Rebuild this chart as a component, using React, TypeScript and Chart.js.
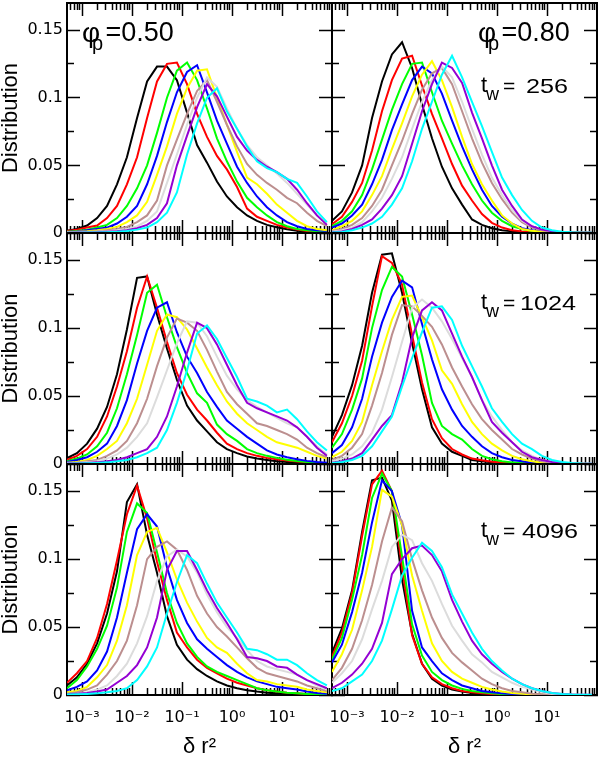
import React, { useEffect, useRef } from 'react';
import { Chart, registerables } from 'chart.js';

Chart.register(...registerables);

// δr² sample positions (log-spaced bins)
const dr2 = [0.0005, 0.00079, 0.00126, 0.002, 0.00316, 0.005, 0.0079, 0.0126, 0.02, 0.0316, 0.05, 0.079, 0.126, 0.2, 0.316, 0.5, 0.79, 1.26, 2, 3.16, 5, 7.9, 12.6, 20, 31.6, 50, 79];

// series colours (black, red, green, blue, yellow, brown, grey, violet, cyan)
const seriesColors = ['#000000', '#ff0000', '#00ff00', '#0000ff', '#ffff00', '#bc8f8f', '#dcdcdc', '#9400d3', '#00ffff'];

const xMajorTicks = [0.001, 0.01, 0.1, 1, 10];
const xTickLabels = ['10⁻³', '10⁻²', '10⁻¹', '10⁰', '10¹'];
const xMinorTicks = [0.0006, 0.0007, 0.0008, 0.0009, 0.002, 0.003, 0.004, 0.005, 0.006, 0.007, 0.008, 0.009, 0.02, 0.03, 0.04, 0.05, 0.06, 0.07, 0.08, 0.09, 0.2, 0.3, 0.4, 0.5, 0.6, 0.7, 0.8, 0.9, 2, 3, 4, 5, 6, 7, 8, 9, 20, 30, 40, 50, 60, 70, 80, 90];
const yMajorTicks = [0, 0.05, 0.1, 0.15];
const yTickLabels = ['0', '0.05', '0.1', '0.15'];
const yMinorTicks = [0.025, 0.075, 0.125];
const xRange = [0.0005, 100];
const yRange = [0, 0.17];

// phi_p = 0.50, t_w = 256
const phi050_tw256 = [
  [0.0017, 0.003, 0.0055, 0.011, 0.020, 0.036, 0.056, 0.085, 0.112, 0.123, 0.123, 0.113, 0.089, 0.065, 0.052, 0.038, 0.027, 0.019, 0.013, 0.009, 0.006, 0.0043, 0.0027, 0.0017, 0.001, 0.0007, 0.0005],
  [0.0015, 0.0025, 0.004, 0.0055, 0.011, 0.020, 0.036, 0.056, 0.085, 0.112, 0.125, 0.126, 0.110, 0.088, 0.071, 0.057, 0.047, 0.034, 0.018, 0.012, 0.009, 0.006, 0.004, 0.0025, 0.0015, 0.001, 0.0008],
  [0.001, 0.0015, 0.0025, 0.004, 0.006, 0.011, 0.020, 0.033, 0.050, 0.074, 0.100, 0.120, 0.126, 0.113, 0.092, 0.070, 0.053, 0.038, 0.026, 0.019, 0.013, 0.008, 0.005, 0.003, 0.002, 0.0012, 0.001],
  [0.0008, 0.0012, 0.002, 0.003, 0.004, 0.007, 0.012, 0.020, 0.036, 0.057, 0.082, 0.104, 0.119, 0.124, 0.104, 0.083, 0.066, 0.049, 0.037, 0.027, 0.019, 0.013, 0.008, 0.005, 0.003, 0.002, 0.0015],
  [0.0006, 0.0009, 0.0013, 0.002, 0.003, 0.0045, 0.008, 0.013, 0.023, 0.043, 0.064, 0.088, 0.107, 0.120, 0.121, 0.100, 0.080, 0.060, 0.041, 0.036, 0.029, 0.021, 0.015, 0.009, 0.005, 0.003, 0.002],
  [0.0004, 0.0006, 0.0009, 0.0013, 0.002, 0.003, 0.0045, 0.008, 0.013, 0.024, 0.050, 0.069, 0.088, 0.105, 0.113, 0.097, 0.080, 0.064, 0.051, 0.043, 0.037, 0.032, 0.026, 0.022, 0.015, 0.009, 0.005],
  [0.0003, 0.0004, 0.0006, 0.0009, 0.0013, 0.002, 0.003, 0.005, 0.009, 0.016, 0.037, 0.058, 0.080, 0.100, 0.115, 0.108, 0.092, 0.077, 0.065, 0.056, 0.050, 0.044, 0.037, 0.029, 0.021, 0.013, 0.007],
  [0.0002, 0.0003, 0.0004, 0.0006, 0.0009, 0.0013, 0.002, 0.0035, 0.006, 0.011, 0.022, 0.050, 0.072, 0.093, 0.110, 0.101, 0.086, 0.071, 0.061, 0.054, 0.049, 0.045, 0.040, 0.032, 0.022, 0.013, 0.006],
  [0.0001, 0.0002, 0.0003, 0.0004, 0.0006, 0.0009, 0.0014, 0.0025, 0.004, 0.008, 0.015, 0.030, 0.058, 0.081, 0.100, 0.107, 0.090, 0.077, 0.064, 0.053, 0.048, 0.045, 0.040, 0.037, 0.027, 0.016, 0.008],
];

// phi_p = 0.80, t_w = 256
const phi080_tw256 = [
  [0.009, 0.016, 0.030, 0.050, 0.085, 0.112, 0.132, 0.141, 0.122, 0.095, 0.070, 0.049, 0.033, 0.021, 0.010, 0.006, 0.0035, 0.002, 0.0012, 0.0008, 0.0005, 0.0003, 0.0002, 0.0001, 0.0001, 0, 0],
  [0.0065, 0.012, 0.023, 0.037, 0.061, 0.090, 0.113, 0.129, 0.131, 0.109, 0.088, 0.070, 0.051, 0.035, 0.024, 0.014, 0.0075, 0.004, 0.002, 0.0012, 0.0008, 0.0005, 0.0003, 0.0002, 0.0001, 0.0001, 0],
  [0.005, 0.009, 0.016, 0.028, 0.047, 0.069, 0.091, 0.110, 0.125, 0.126, 0.104, 0.083, 0.066, 0.050, 0.036, 0.024, 0.015, 0.009, 0.005, 0.003, 0.0015, 0.0008, 0.0005, 0.0003, 0.0002, 0.0001, 0.0001],
  [0.004, 0.007, 0.013, 0.021, 0.036, 0.054, 0.076, 0.095, 0.113, 0.123, 0.118, 0.103, 0.083, 0.064, 0.047, 0.032, 0.020, 0.012, 0.007, 0.0035, 0.002, 0.001, 0.0006, 0.0003, 0.0002, 0.0001, 0.0001],
  [0.002, 0.005, 0.009, 0.016, 0.028, 0.042, 0.062, 0.081, 0.101, 0.117, 0.127, 0.113, 0.093, 0.071, 0.051, 0.036, 0.024, 0.013, 0.007, 0.003, 0.0017, 0.001, 0.0006, 0.0003, 0.0002, 0.0001, 0.0001],
  [0.0015, 0.003, 0.006, 0.011, 0.020, 0.032, 0.050, 0.068, 0.088, 0.106, 0.118, 0.122, 0.110, 0.090, 0.070, 0.052, 0.037, 0.025, 0.015, 0.008, 0.004, 0.002, 0.001, 0.0005, 0.0003, 0.0002, 0.0001],
  [0.001, 0.002, 0.004, 0.008, 0.016, 0.026, 0.040, 0.056, 0.077, 0.097, 0.113, 0.123, 0.115, 0.097, 0.077, 0.058, 0.041, 0.028, 0.017, 0.009, 0.005, 0.0025, 0.0012, 0.0006, 0.0003, 0.0002, 0.0001],
  [0.0005, 0.0012, 0.003, 0.006, 0.010, 0.018, 0.028, 0.042, 0.066, 0.090, 0.110, 0.126, 0.122, 0.111, 0.089, 0.070, 0.050, 0.032, 0.020, 0.010, 0.005, 0.0025, 0.0012, 0.0006, 0.0003, 0.0002, 0.0001],
  [0.0003, 0.0008, 0.002, 0.004, 0.007, 0.012, 0.021, 0.033, 0.053, 0.077, 0.097, 0.117, 0.131, 0.115, 0.097, 0.079, 0.060, 0.041, 0.028, 0.017, 0.009, 0.004, 0.002, 0.001, 0.0005, 0.0002, 0.0001],
];

// phi_p = 0.50, t_w = 1024
const phi050_tw1024 = [
  [0.0044, 0.008, 0.015, 0.026, 0.042, 0.066, 0.099, 0.137, 0.138, 0.110, 0.085, 0.062, 0.043, 0.032, 0.024, 0.016, 0.011, 0.008, 0.0055, 0.004, 0.003, 0.002, 0.0015, 0.001, 0.0007, 0.0005, 0.0003],
  [0.003, 0.006, 0.011, 0.020, 0.035, 0.057, 0.083, 0.115, 0.138, 0.115, 0.090, 0.067, 0.051, 0.040, 0.032, 0.023, 0.015, 0.011, 0.008, 0.006, 0.0045, 0.0035, 0.0025, 0.0018, 0.0012, 0.0008, 0.0005],
  [0.002, 0.004, 0.007, 0.013, 0.023, 0.041, 0.066, 0.095, 0.126, 0.132, 0.108, 0.086, 0.067, 0.052, 0.045, 0.029, 0.022, 0.017, 0.011, 0.008, 0.006, 0.0045, 0.0032, 0.0022, 0.0015, 0.001, 0.0006],
  [0.0015, 0.003, 0.005, 0.009, 0.015, 0.028, 0.047, 0.074, 0.098, 0.115, 0.119, 0.097, 0.079, 0.067, 0.053, 0.042, 0.032, 0.026, 0.020, 0.015, 0.010, 0.007, 0.005, 0.0035, 0.0023, 0.0015, 0.001],
  [0.001, 0.0015, 0.003, 0.006, 0.011, 0.017, 0.030, 0.048, 0.073, 0.098, 0.110, 0.108, 0.099, 0.085, 0.071, 0.058, 0.046, 0.037, 0.030, 0.025, 0.020, 0.016, 0.014, 0.012, 0.009, 0.006, 0.004],
  [0.0007, 0.001, 0.002, 0.003, 0.006, 0.010, 0.017, 0.030, 0.048, 0.072, 0.093, 0.107, 0.104, 0.098, 0.084, 0.068, 0.053, 0.044, 0.037, 0.030, 0.028, 0.025, 0.022, 0.018, 0.012, 0.008, 0.005],
  [0.0005, 0.0008, 0.0012, 0.002, 0.004, 0.007, 0.012, 0.020, 0.030, 0.049, 0.069, 0.089, 0.105, 0.104, 0.094, 0.079, 0.065, 0.055, 0.047, 0.042, 0.038, 0.034, 0.030, 0.027, 0.020, 0.013, 0.007],
  [0.0003, 0.0005, 0.0008, 0.0012, 0.002, 0.003, 0.005, 0.008, 0.011, 0.020, 0.035, 0.057, 0.082, 0.104, 0.100, 0.088, 0.073, 0.058, 0.045, 0.041, 0.038, 0.035, 0.032, 0.027, 0.020, 0.012, 0.006],
  [0.0002, 0.0003, 0.0005, 0.0008, 0.0012, 0.002, 0.003, 0.005, 0.008, 0.012, 0.025, 0.045, 0.069, 0.096, 0.102, 0.092, 0.078, 0.064, 0.048, 0.046, 0.043, 0.038, 0.040, 0.033, 0.024, 0.016, 0.010],
];

// phi_p = 0.80, t_w = 1024
const phi080_tw1024 = [
  [0.020, 0.036, 0.058, 0.087, 0.126, 0.154, 0.155, 0.126, 0.089, 0.055, 0.027, 0.015, 0.009, 0.006, 0.003, 0.002, 0.0012, 0.0008, 0.0005, 0.0003, 0.0002, 0.0001, 0.0001, 0, 0, 0, 0],
  [0.016, 0.030, 0.050, 0.076, 0.116, 0.153, 0.148, 0.132, 0.095, 0.060, 0.033, 0.019, 0.011, 0.007, 0.004, 0.0027, 0.0017, 0.0011, 0.0007, 0.0004, 0.0002, 0.0001, 0.0001, 0, 0, 0, 0],
  [0.012, 0.022, 0.040, 0.063, 0.100, 0.128, 0.145, 0.138, 0.110, 0.080, 0.045, 0.028, 0.022, 0.018, 0.011, 0.006, 0.0035, 0.002, 0.0012, 0.0007, 0.0004, 0.0002, 0.0001, 0.0001, 0, 0, 0],
  [0.008, 0.014, 0.027, 0.048, 0.079, 0.104, 0.123, 0.135, 0.130, 0.103, 0.077, 0.055, 0.040, 0.028, 0.020, 0.013, 0.008, 0.005, 0.003, 0.002, 0.001, 0.0006, 0.0003, 0.0002, 0.0001, 0, 0],
  [0.005, 0.009, 0.017, 0.031, 0.058, 0.083, 0.106, 0.123, 0.124, 0.108, 0.091, 0.069, 0.059, 0.044, 0.031, 0.022, 0.015, 0.010, 0.006, 0.0035, 0.002, 0.001, 0.0006, 0.0003, 0.0002, 0.0001, 0],
  [0.003, 0.006, 0.012, 0.022, 0.043, 0.067, 0.095, 0.117, 0.116, 0.109, 0.101, 0.088, 0.071, 0.057, 0.044, 0.033, 0.025, 0.018, 0.011, 0.007, 0.004, 0.002, 0.001, 0.0006, 0.0003, 0.0002, 0.0001],
  [0.002, 0.004, 0.007, 0.013, 0.023, 0.040, 0.064, 0.090, 0.115, 0.121, 0.115, 0.105, 0.092, 0.078, 0.064, 0.047, 0.035, 0.025, 0.016, 0.010, 0.006, 0.003, 0.0015, 0.0008, 0.0004, 0.0002, 0.0001],
  [0.001, 0.002, 0.004, 0.008, 0.018, 0.028, 0.036, 0.060, 0.093, 0.113, 0.119, 0.113, 0.096, 0.079, 0.064, 0.047, 0.031, 0.023, 0.016, 0.009, 0.005, 0.003, 0.0015, 0.0008, 0.0004, 0.0002, 0.0001],
  [0.0008, 0.0015, 0.003, 0.006, 0.013, 0.024, 0.035, 0.057, 0.078, 0.097, 0.115, 0.116, 0.106, 0.087, 0.072, 0.057, 0.041, 0.031, 0.022, 0.015, 0.011, 0.006, 0.003, 0.0015, 0.0008, 0.0004, 0.0002],
];

// phi_p = 0.50, t_w = 4096
const phi050_tw4096 = [
  [0.007, 0.013, 0.023, 0.038, 0.060, 0.091, 0.142, 0.155, 0.118, 0.090, 0.058, 0.037, 0.026, 0.019, 0.014, 0.010, 0.007, 0.005, 0.0035, 0.0025, 0.0017, 0.0012, 0.0008, 0.0005, 0.0003, 0.0002, 0.0001],
  [0.009, 0.016, 0.025, 0.042, 0.067, 0.099, 0.133, 0.154, 0.130, 0.098, 0.070, 0.046, 0.035, 0.026, 0.020, 0.016, 0.012, 0.009, 0.007, 0.005, 0.0035, 0.0025, 0.0017, 0.0012, 0.0008, 0.0005, 0.0003],
  [0.005, 0.011, 0.021, 0.034, 0.051, 0.079, 0.120, 0.141, 0.134, 0.105, 0.075, 0.053, 0.038, 0.028, 0.021, 0.017, 0.014, 0.011, 0.008, 0.005, 0.0035, 0.0025, 0.0017, 0.0012, 0.0008, 0.0005, 0.0003],
  [0.0035, 0.006, 0.010, 0.018, 0.032, 0.057, 0.090, 0.122, 0.133, 0.124, 0.094, 0.070, 0.053, 0.041, 0.034, 0.028, 0.022, 0.017, 0.013, 0.010, 0.008, 0.006, 0.005, 0.004, 0.0025, 0.0015, 0.001],
  [0.002, 0.003, 0.006, 0.013, 0.022, 0.040, 0.066, 0.103, 0.120, 0.123, 0.105, 0.085, 0.068, 0.054, 0.042, 0.035, 0.031, 0.023, 0.016, 0.011, 0.010, 0.008, 0.007, 0.006, 0.004, 0.003, 0.002],
  [0.001, 0.002, 0.004, 0.007, 0.015, 0.025, 0.040, 0.066, 0.100, 0.109, 0.113, 0.107, 0.092, 0.073, 0.060, 0.050, 0.043, 0.035, 0.027, 0.020, 0.016, 0.014, 0.012, 0.010, 0.007, 0.005, 0.003],
  [0.0006, 0.001, 0.002, 0.004, 0.007, 0.014, 0.023, 0.038, 0.058, 0.084, 0.102, 0.107, 0.102, 0.090, 0.074, 0.061, 0.050, 0.042, 0.033, 0.025, 0.021, 0.019, 0.017, 0.015, 0.011, 0.007, 0.004],
  [0.0005, 0.001, 0.0015, 0.0025, 0.004, 0.009, 0.014, 0.022, 0.035, 0.057, 0.092, 0.106, 0.106, 0.092, 0.077, 0.064, 0.053, 0.041, 0.028, 0.027, 0.025, 0.021, 0.020, 0.015, 0.011, 0.008, 0.005],
  [0.0003, 0.0005, 0.0008, 0.0012, 0.002, 0.003, 0.005, 0.011, 0.021, 0.035, 0.060, 0.083, 0.103, 0.097, 0.082, 0.068, 0.057, 0.046, 0.034, 0.033, 0.030, 0.026, 0.026, 0.022, 0.016, 0.011, 0.007],
];

// phi_p = 0.80, t_w = 4096
const phi080_tw4096 = [
  [0.031, 0.049, 0.077, 0.120, 0.158, 0.160, 0.143, 0.085, 0.045, 0.023, 0.012, 0.007, 0.004, 0.0025, 0.0015, 0.001, 0.0006, 0.0003, 0.0002, 0.0001, 0.0001, 0, 0, 0, 0, 0, 0],
  [0.028, 0.046, 0.075, 0.117, 0.155, 0.165, 0.150, 0.094, 0.044, 0.023, 0.013, 0.008, 0.005, 0.003, 0.002, 0.0012, 0.0007, 0.0004, 0.0002, 0.0001, 0.0001, 0, 0, 0, 0, 0, 0],
  [0.026, 0.042, 0.070, 0.103, 0.145, 0.163, 0.150, 0.102, 0.052, 0.029, 0.017, 0.011, 0.007, 0.0045, 0.003, 0.002, 0.0012, 0.0007, 0.0004, 0.0002, 0.0001, 0.0001, 0, 0, 0, 0, 0],
  [0.024, 0.037, 0.061, 0.090, 0.127, 0.158, 0.150, 0.125, 0.062, 0.035, 0.025, 0.016, 0.011, 0.007, 0.005, 0.003, 0.002, 0.0012, 0.0007, 0.0004, 0.0002, 0.0001, 0.0001, 0, 0, 0, 0],
  [0.017, 0.030, 0.048, 0.077, 0.109, 0.151, 0.146, 0.125, 0.088, 0.062, 0.038, 0.025, 0.017, 0.012, 0.009, 0.006, 0.004, 0.0025, 0.0015, 0.0009, 0.0005, 0.0003, 0.0002, 0.0001, 0, 0, 0],
  [0.011, 0.020, 0.034, 0.055, 0.081, 0.113, 0.138, 0.128, 0.100, 0.077, 0.057, 0.042, 0.031, 0.024, 0.018, 0.012, 0.008, 0.005, 0.003, 0.002, 0.001, 0.0006, 0.0003, 0.0002, 0.0001, 0, 0],
  [0.009, 0.016, 0.025, 0.041, 0.063, 0.084, 0.109, 0.118, 0.114, 0.097, 0.084, 0.067, 0.051, 0.040, 0.030, 0.024, 0.017, 0.013, 0.009, 0.006, 0.004, 0.002, 0.001, 0.0005, 0.0003, 0.0001, 0],
  [0.005, 0.009, 0.015, 0.023, 0.034, 0.053, 0.089, 0.100, 0.108, 0.110, 0.103, 0.091, 0.070, 0.054, 0.040, 0.030, 0.023, 0.017, 0.012, 0.008, 0.005, 0.003, 0.0015, 0.0008, 0.0004, 0.0002, 0.0001],
  [0.003, 0.005, 0.010, 0.015, 0.025, 0.040, 0.063, 0.088, 0.101, 0.112, 0.106, 0.094, 0.074, 0.060, 0.046, 0.034, 0.025, 0.018, 0.012, 0.008, 0.005, 0.003, 0.0015, 0.0008, 0.0004, 0.0002, 0.0001],
];

const panels = [
  { series: phi050_tw256, row: 0, col: 0 },
  { series: phi080_tw256, row: 0, col: 1 },
  { series: phi050_tw1024, row: 1, col: 0 },
  { series: phi080_tw1024, row: 1, col: 1 },
  { series: phi050_tw4096, row: 2, col: 0 },
  { series: phi080_tw4096, row: 2, col: 1 },
];

// page geometry
const W = 599;
const H = 757;
const COL_X = [67, 332, 597];
const ROW_Y = [3, 233, 464, 695];

const TICK_FONT = { family: "'DejaVu Sans', sans-serif", size: 16 };
const SANS = "'Liberation Sans', Arial, Helvetica, sans-serif";

function buildConfig(series: number[][], row: number, col: number): any {
  const left = COL_X[col];
  const right = COL_X[col + 1];
  const top = ROW_Y[row];
  const bottom = ROW_Y[row + 1];
  const labelY = col === 0;
  const labelX = row === 2;
  const yW = labelY ? left : 0;
  const xH = labelX ? H - bottom : 0;

  const sizeTo = (w: number | null, h: number | null) => (s: any) => {
    if (w !== null) s.width = w;
    if (h !== null) s.height = h;
    s.paddingLeft = 0;
    s.paddingRight = 0;
    s.paddingTop = 0;
    s.paddingBottom = 0;
  };
  const useTicks = (vals: number[]) => (s: any) => {
    s.ticks = vals.map((v) => ({ value: v }));
  };
  const grid = (len: number) => ({
    display: true,
    drawOnChartArea: false,
    drawTicks: true,
    tickLength: -len,
    tickColor: '#000',
    tickWidth: 1.5,
  });
  const border = (show: boolean) => (show ? { display: true, color: '#000', width: 2 } : { display: false });

  const xAxis = (position: string, vals: number[], len: number, main: boolean, labels: boolean, h: number) => ({
    type: 'logarithmic',
    axis: 'x',
    position,
    weight: main ? 1 : 0,
    min: xRange[0],
    max: xRange[1],
    z: 1,
    grid: grid(len),
    border: border(main),
    ticks: {
      display: labels,
      autoSkip: false,
      maxRotation: 0,
      minRotation: 0,
      padding: 26,
      color: '#000',
      font: TICK_FONT,
      callback: (_v: any, i: number) => (labels ? xTickLabels[i] : ''),
    },
    title: {
      display: labels,
      text: 'δ r²',
      color: '#000',
      font: { family: SANS, size: 22, lineHeight: 0.87 },
      padding: 0,
    },
    afterBuildTicks: useTicks(vals),
    afterFit: sizeTo(null, h),
  });

  const yAxis = (position: string, vals: number[], len: number, main: boolean, labels: boolean, w: number) => ({
    type: 'linear',
    axis: 'y',
    position,
    weight: main ? 1 : 0,
    min: yRange[0],
    max: yRange[1],
    z: 1,
    grid: grid(len),
    border: border(main),
    ticks: {
      display: labels,
      autoSkip: false,
      includeBounds: false,
      padding: 17,
      color: '#000',
      font: TICK_FONT,
      callback: (_v: any, i: number) => (labels ? yTickLabels[i] : ''),
    },
    title: {
      display: labels,
      text: 'Distribution',
      color: '#000',
      font: { family: SANS, size: 22, lineHeight: 1 },
      padding: 0,
    },
    afterBuildTicks: useTicks(vals),
    afterFit: sizeTo(w, null),
  });

  return {
    type: 'line',
    data: {
      datasets: series.map((vals, i) => ({
        data: dr2.map((x, j) => ({ x, y: vals[j] })),
        borderColor: seriesColors[i],
        backgroundColor: seriesColors[i],
        borderWidth: 2,
        pointRadius: 0,
        fill: false,
        tension: 0,
        order: series.length - i,
        xAxisID: 'x',
        yAxisID: 'y',
      })),
    },
    options: {
      responsive: false,
      animation: false,
      devicePixelRatio: 1,
      events: [],
      layout: {
        autoPadding: false,
        padding: {
          left: left - yW,
          right: W - right,
          top,
          bottom: H - bottom - xH,
        },
      },
      plugins: { legend: { display: false }, tooltip: { enabled: false }, title: { display: false } },
      scales: {
        x: xAxis('bottom', xMajorTicks, 13, true, labelX, xH),
        xMinorB: xAxis('bottom', xMinorTicks, 7, false, false, 0),
        xTop: xAxis('top', xMajorTicks, 13, true, false, 0),
        xMinorT: xAxis('top', xMinorTicks, 7, false, false, 0),
        y: yAxis('left', yMajorTicks, 13, true, labelY, yW),
        yMinorL: yAxis('left', yMinorTicks, 7, false, false, 0),
        yRight: yAxis('right', yMajorTicks, 13, true, false, 0),
        yMinorR: yAxis('right', yMinorTicks, 7, false, false, 0),
      },
    },
  };
}

function Panel({ series, row, col }: { series: number[][]; row: number; col: number }) {
  const ref = useRef<HTMLCanvasElement>(null);
  useEffect(() => {
    if (!ref.current) return;
    const chart = new Chart(ref.current, buildConfig(series, row, col));
    return () => chart.destroy();
  }, [series, row, col]);
  return (
    <canvas
      ref={ref}
      width={W}
      height={H}
      style={{ position: 'absolute', left: 0, top: 0, width: W, height: H }}
    />
  );
}

// baseline-positioned text (line-height 1, Liberation Sans baseline ≈ 0.8465 em)
function Txt({ x, base, size, children, scaleX }: { x: number; base: number; size: number; children: any; scaleX?: number }) {
  return (
    <div
      style={{
        position: 'absolute',
        left: x,
        top: base - 0.8465 * size,
        fontSize: size,
        lineHeight: 1,
        fontFamily: SANS,
        color: '#000',
        whiteSpace: 'nowrap',
        transform: scaleX ? `scaleX(${scaleX})` : undefined,
        transformOrigin: 'left top',
      }}
    >
      {children}
    </div>
  );
}

const phiLabels = [
  { value: '=0.50', x: 82 },
  { value: '=0.80', x: 478 },
];

const twLabels = [
  { value: '256', base: 93, x: 526 },
  { value: '1024', base: 310, x: 520 },
  { value: '4096', base: 538, x: 522 },
];

export default function App() {
  return (
    <div
      style={{
        position: 'absolute',
        left: 0,
        top: 0,
        width: W,
        height: H,
        background: '#ffffff',
        overflow: 'hidden',
      }}
    >
      {panels.map((p, i) => (
        <Panel key={i} series={p.series} row={p.row} col={p.col} />
      ))}

      {phiLabels.map((p) => (
        <React.Fragment key={p.value}>
          <Txt x={p.x} base={42.3} size={28}>φ</Txt>
          <Txt x={p.x + 10} base={50} size={20}>p</Txt>
          <Txt x={p.x + 23.5} base={42.3} size={27}>{p.value}</Txt>
        </React.Fragment>
      ))}

      {twLabels.map((t) => (
        <React.Fragment key={t.value}>
          <Txt x={481} base={t.base} size={22}>t</Txt>
          <Txt x={486} base={t.base + 7.5} size={18}>w</Txt>
          <Txt x={503} base={t.base} size={21}>=</Txt>
          <Txt x={t.x} base={t.base} size={21} scaleX={1.2}>{t.value}</Txt>
        </React.Fragment>
      ))}
    </div>
  );
}
